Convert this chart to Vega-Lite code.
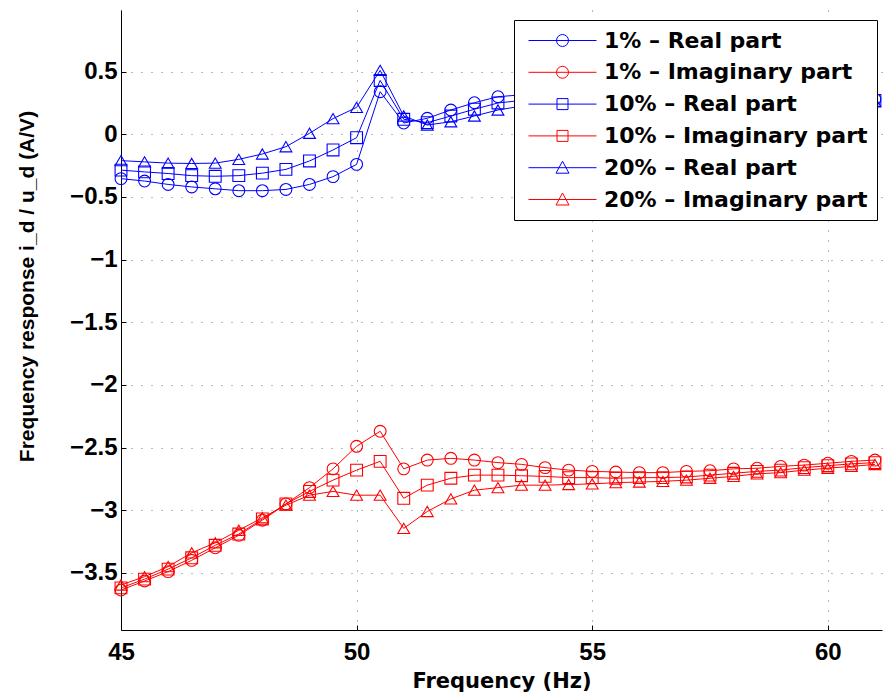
{
  "$schema": "https://vega.github.io/schema/vega-lite/v6.json",
  "autosize": {"type": "none"},
  "width": 761,
  "height": 620,
  "padding": {"left": 121, "top": 10, "right": 1, "bottom": 66},
  "background": "white",
  "config": {
    "view": {"stroke": null},
    "font": "Liberation Sans",
    "axis": {
      "domainColor": "#000",
      "domainWidth": 1,
      "tickColor": "#000",
      "tickSize": -5,
      "grid": true,
      "gridColor": "#000",
      "gridDash": [1, 9],
      "gridOpacity": 0.55,
      "labelFont": "Liberation Sans",
      "labelFontWeight": "bold",
      "labelFontSize": 24,
      "labelColor": "#000",
      "labelFlush": false,
      "titleFont": "Liberation Sans",
      "titleFontWeight": "bold",
      "titleFontSize": 21,
      "titleColor": "#000"
    }
  },
  "data": {"values": [
    {"f":45,"s":"1% – Real part","v":-0.354},{"f":45.5,"s":"1% – Real part","v":-0.373},{"f":46,"s":"1% – Real part","v":-0.40},{"f":46.5,"s":"1% – Real part","v":-0.42},{"f":47,"s":"1% – Real part","v":-0.435},{"f":47.5,"s":"1% – Real part","v":-0.45},{"f":48,"s":"1% – Real part","v":-0.45},{"f":48.5,"s":"1% – Real part","v":-0.44},{"f":49,"s":"1% – Real part","v":-0.40},{"f":49.5,"s":"1% – Real part","v":-0.338},{"f":50,"s":"1% – Real part","v":-0.24},{"f":50.5,"s":"1% – Real part","v":0.34},{"f":51,"s":"1% – Real part","v":0.09},{"f":51.5,"s":"1% – Real part","v":0.128},{"f":52,"s":"1% – Real part","v":0.194},{"f":52.5,"s":"1% – Real part","v":0.252},{"f":53,"s":"1% – Real part","v":0.30},{"f":53.5,"s":"1% – Real part","v":0.315},{"f":54,"s":"1% – Real part","v":0.325},{"f":54.5,"s":"1% – Real part","v":0.33},{"f":55,"s":"1% – Real part","v":0.332},{"f":55.5,"s":"1% – Real part","v":0.332},{"f":56,"s":"1% – Real part","v":0.33},{"f":56.5,"s":"1% – Real part","v":0.327},{"f":57,"s":"1% – Real part","v":0.323},{"f":57.5,"s":"1% – Real part","v":0.318},{"f":58,"s":"1% – Real part","v":0.313},{"f":58.5,"s":"1% – Real part","v":0.307},{"f":59,"s":"1% – Real part","v":0.302},{"f":59.5,"s":"1% – Real part","v":0.297},{"f":60,"s":"1% – Real part","v":0.292},{"f":60.5,"s":"1% – Real part","v":0.286},{"f":61,"s":"1% – Real part","v":0.28},

    {"f":45,"s":"1% – Imaginary part","v":-3.637},{"f":45.5,"s":"1% – Imaginary part","v":-3.565},{"f":46,"s":"1% – Imaginary part","v":-3.49},{"f":46.5,"s":"1% – Imaginary part","v":-3.40},{"f":47,"s":"1% – Imaginary part","v":-3.30},{"f":47.5,"s":"1% – Imaginary part","v":-3.20},{"f":48,"s":"1% – Imaginary part","v":-3.08},{"f":48.5,"s":"1% – Imaginary part","v":-2.95},{"f":49,"s":"1% – Imaginary part","v":-2.82},{"f":49.5,"s":"1% – Imaginary part","v":-2.67},{"f":50,"s":"1% – Imaginary part","v":-2.49},{"f":50.5,"s":"1% – Imaginary part","v":-2.37},{"f":51,"s":"1% – Imaginary part","v":-2.67},{"f":51.5,"s":"1% – Imaginary part","v":-2.60},{"f":52,"s":"1% – Imaginary part","v":-2.586},{"f":52.5,"s":"1% – Imaginary part","v":-2.60},{"f":53,"s":"1% – Imaginary part","v":-2.62},{"f":53.5,"s":"1% – Imaginary part","v":-2.634},{"f":54,"s":"1% – Imaginary part","v":-2.66},{"f":54.5,"s":"1% – Imaginary part","v":-2.68},{"f":55,"s":"1% – Imaginary part","v":-2.69},{"f":55.5,"s":"1% – Imaginary part","v":-2.695},{"f":56,"s":"1% – Imaginary part","v":-2.70},{"f":56.5,"s":"1% – Imaginary part","v":-2.70},{"f":57,"s":"1% – Imaginary part","v":-2.69},{"f":57.5,"s":"1% – Imaginary part","v":-2.685},{"f":58,"s":"1% – Imaginary part","v":-2.67},{"f":58.5,"s":"1% – Imaginary part","v":-2.665},{"f":59,"s":"1% – Imaginary part","v":-2.65},{"f":59.5,"s":"1% – Imaginary part","v":-2.64},{"f":60,"s":"1% – Imaginary part","v":-2.625},{"f":60.5,"s":"1% – Imaginary part","v":-2.61},{"f":61,"s":"1% – Imaginary part","v":-2.60},

    {"f":45,"s":"10% – Real part","v":-0.286},{"f":45.5,"s":"10% – Real part","v":-0.30},{"f":46,"s":"10% – Real part","v":-0.313},{"f":46.5,"s":"10% – Real part","v":-0.33},{"f":47,"s":"10% – Real part","v":-0.335},{"f":47.5,"s":"10% – Real part","v":-0.33},{"f":48,"s":"10% – Real part","v":-0.31},{"f":48.5,"s":"10% – Real part","v":-0.28},{"f":49,"s":"10% – Real part","v":-0.213},{"f":49.5,"s":"10% – Real part","v":-0.125},{"f":50,"s":"10% – Real part","v":-0.027},{"f":50.5,"s":"10% – Real part","v":0.43},{"f":51,"s":"10% – Real part","v":0.12},{"f":51.5,"s":"10% – Real part","v":0.093},{"f":52,"s":"10% – Real part","v":0.146},{"f":52.5,"s":"10% – Real part","v":0.20},{"f":53,"s":"10% – Real part","v":0.25},{"f":53.5,"s":"10% – Real part","v":0.27},{"f":54,"s":"10% – Real part","v":0.285},{"f":54.5,"s":"10% – Real part","v":0.295},{"f":55,"s":"10% – Real part","v":0.30},{"f":55.5,"s":"10% – Real part","v":0.303},{"f":56,"s":"10% – Real part","v":0.304},{"f":56.5,"s":"10% – Real part","v":0.303},{"f":57,"s":"10% – Real part","v":0.30},{"f":57.5,"s":"10% – Real part","v":0.297},{"f":58,"s":"10% – Real part","v":0.293},{"f":58.5,"s":"10% – Real part","v":0.289},{"f":59,"s":"10% – Real part","v":0.285},{"f":59.5,"s":"10% – Real part","v":0.28},{"f":60,"s":"10% – Real part","v":0.276},{"f":60.5,"s":"10% – Real part","v":0.272},{"f":61,"s":"10% – Real part","v":0.27},

    {"f":45,"s":"10% – Imaginary part","v":-3.62},{"f":45.5,"s":"10% – Imaginary part","v":-3.55},{"f":46,"s":"10% – Imaginary part","v":-3.47},{"f":46.5,"s":"10% – Imaginary part","v":-3.38},{"f":47,"s":"10% – Imaginary part","v":-3.28},{"f":47.5,"s":"10% – Imaginary part","v":-3.19},{"f":48,"s":"10% – Imaginary part","v":-3.07},{"f":48.5,"s":"10% – Imaginary part","v":-2.95},{"f":49,"s":"10% – Imaginary part","v":-2.85},{"f":49.5,"s":"10% – Imaginary part","v":-2.76},{"f":50,"s":"10% – Imaginary part","v":-2.68},{"f":50.5,"s":"10% – Imaginary part","v":-2.61},{"f":51,"s":"10% – Imaginary part","v":-2.905},{"f":51.5,"s":"10% – Imaginary part","v":-2.80},{"f":52,"s":"10% – Imaginary part","v":-2.745},{"f":52.5,"s":"10% – Imaginary part","v":-2.72},{"f":53,"s":"10% – Imaginary part","v":-2.72},{"f":53.5,"s":"10% – Imaginary part","v":-2.725},{"f":54,"s":"10% – Imaginary part","v":-2.73},{"f":54.5,"s":"10% – Imaginary part","v":-2.74},{"f":55,"s":"10% – Imaginary part","v":-2.74},{"f":55.5,"s":"10% – Imaginary part","v":-2.745},{"f":56,"s":"10% – Imaginary part","v":-2.74},{"f":56.5,"s":"10% – Imaginary part","v":-2.74},{"f":57,"s":"10% – Imaginary part","v":-2.735},{"f":57.5,"s":"10% – Imaginary part","v":-2.72},{"f":58,"s":"10% – Imaginary part","v":-2.705},{"f":58.5,"s":"10% – Imaginary part","v":-2.69},{"f":59,"s":"10% – Imaginary part","v":-2.68},{"f":59.5,"s":"10% – Imaginary part","v":-2.66},{"f":60,"s":"10% – Imaginary part","v":-2.645},{"f":60.5,"s":"10% – Imaginary part","v":-2.63},{"f":61,"s":"10% – Imaginary part","v":-2.62},

    {"f":45,"s":"20% – Real part","v":-0.21},{"f":45.5,"s":"20% – Real part","v":-0.22},{"f":46,"s":"20% – Real part","v":-0.23},{"f":46.5,"s":"20% – Real part","v":-0.233},{"f":47,"s":"20% – Real part","v":-0.23},{"f":47.5,"s":"20% – Real part","v":-0.20},{"f":48,"s":"20% – Real part","v":-0.157},{"f":48.5,"s":"20% – Real part","v":-0.099},{"f":49,"s":"20% – Real part","v":0.008},{"f":49.5,"s":"20% – Real part","v":0.125},{"f":50,"s":"20% – Real part","v":0.215},{"f":50.5,"s":"20% – Real part","v":0.51},{"f":51,"s":"20% – Real part","v":0.146},{"f":51.5,"s":"20% – Real part","v":0.074},{"f":52,"s":"20% – Real part","v":0.10},{"f":52.5,"s":"20% – Real part","v":0.146},{"f":53,"s":"20% – Real part","v":0.194},{"f":53.5,"s":"20% – Real part","v":0.225},{"f":54,"s":"20% – Real part","v":0.245},{"f":54.5,"s":"20% – Real part","v":0.26},{"f":55,"s":"20% – Real part","v":0.27},{"f":55.5,"s":"20% – Real part","v":0.276},{"f":56,"s":"20% – Real part","v":0.28},{"f":56.5,"s":"20% – Real part","v":0.282},{"f":57,"s":"20% – Real part","v":0.282},{"f":57.5,"s":"20% – Real part","v":0.281},{"f":58,"s":"20% – Real part","v":0.279},{"f":58.5,"s":"20% – Real part","v":0.276},{"f":59,"s":"20% – Real part","v":0.273},{"f":59.5,"s":"20% – Real part","v":0.27},{"f":60,"s":"20% – Real part","v":0.267},{"f":60.5,"s":"20% – Real part","v":0.263},{"f":61,"s":"20% – Real part","v":0.26},

    {"f":45,"s":"20% – Imaginary part","v":-3.597},{"f":45.5,"s":"20% – Imaginary part","v":-3.53},{"f":46,"s":"20% – Imaginary part","v":-3.45},{"f":46.5,"s":"20% – Imaginary part","v":-3.34},{"f":47,"s":"20% – Imaginary part","v":-3.26},{"f":47.5,"s":"20% – Imaginary part","v":-3.16},{"f":48,"s":"20% – Imaginary part","v":-3.06},{"f":48.5,"s":"20% – Imaginary part","v":-2.96},{"f":49,"s":"20% – Imaginary part","v":-2.88},{"f":49.5,"s":"20% – Imaginary part","v":-2.85},{"f":50,"s":"20% – Imaginary part","v":-2.88},{"f":50.5,"s":"20% – Imaginary part","v":-2.88},{"f":51,"s":"20% – Imaginary part","v":-3.145},{"f":51.5,"s":"20% – Imaginary part","v":-3.01},{"f":52,"s":"20% – Imaginary part","v":-2.91},{"f":52.5,"s":"20% – Imaginary part","v":-2.84},{"f":53,"s":"20% – Imaginary part","v":-2.82},{"f":53.5,"s":"20% – Imaginary part","v":-2.80},{"f":54,"s":"20% – Imaginary part","v":-2.80},{"f":54.5,"s":"20% – Imaginary part","v":-2.795},{"f":55,"s":"20% – Imaginary part","v":-2.79},{"f":55.5,"s":"20% – Imaginary part","v":-2.78},{"f":56,"s":"20% – Imaginary part","v":-2.775},{"f":56.5,"s":"20% – Imaginary part","v":-2.77},{"f":57,"s":"20% – Imaginary part","v":-2.76},{"f":57.5,"s":"20% – Imaginary part","v":-2.745},{"f":58,"s":"20% – Imaginary part","v":-2.73},{"f":58.5,"s":"20% – Imaginary part","v":-2.71},{"f":59,"s":"20% – Imaginary part","v":-2.70},{"f":59.5,"s":"20% – Imaginary part","v":-2.68},{"f":60,"s":"20% – Imaginary part","v":-2.665},{"f":60.5,"s":"20% – Imaginary part","v":-2.65},{"f":61,"s":"20% – Imaginary part","v":-2.635}
  ]},
  "encoding": {
    "x": {
      "field": "f", "type": "quantitative",
      "scale": {"domain": [45, 61.15], "nice": false, "zero": false},
      "axis": {"values": [45, 50, 55, 60], "title": "Frequency (Hz)", "labelPadding": 15,
               "titleFont": "DejaVu Sans", "titleFontSize": 21, "titleY": 57, "titleBaseline": "alphabetic"}
    },
    "y": {
      "field": "v", "type": "quantitative",
      "scale": {"domain": [-3.956, 0.992], "nice": false, "zero": false},
      "axis": {"values": [-3.5, -3, -2.5, -2, -1.5, -1, -0.5, 0, 0.5], "format": "~g", "labelPadding": 9,
               "title": "Frequency response i_d / u_d (A/V)", "titleX": -88, "titleY": 276, "titleBaseline": "alphabetic"}
    },
    "color": {
      "field": "s", "type": "nominal",
      "scale": {
        "domain": ["1% – Real part", "1% – Imaginary part", "10% – Real part", "10% – Imaginary part", "20% – Real part", "20% – Imaginary part"],
        "range": ["#0000ff", "#ff0000", "#0000ff", "#ff0000", "#0000ff", "#ff0000"]
      },
      "legend": null
    }
  },
  "layer": [
    {
      "mark": {"type": "line", "strokeWidth": 1},
      "encoding": {"detail": {"field": "s"}}
    },
    {
      "mark": {"type": "point", "filled": false, "strokeWidth": 1.1, "size": 140, "opacity": 1},
      "encoding": {
        "shape": {
          "field": "s", "type": "nominal",
          "scale": {
            "domain": ["1% – Real part", "1% – Imaginary part", "10% – Real part", "10% – Imaginary part", "20% – Real part", "20% – Imaginary part"],
            "range": ["circle", "circle", "square", "square", "triangle-up", "triangle-up"]
          },
          "legend": null
        }
      }
    },
    {
      "mark": {"type": "point", "filled": false, "strokeWidth": 1, "opacity": 0},
      "encoding": {
        "color": {
          "field": "s", "type": "nominal",
          "scale": {
            "domain": ["1% – Real part", "1% – Imaginary part", "10% – Real part", "10% – Imaginary part", "20% – Real part", "20% – Imaginary part"],
            "range": ["#0000ff", "#ff0000", "#0000ff", "#ff0000", "#0000ff", "#ff0000"]
          },
          "legend": {
            "title": null, "orient": "none", "legendX": 393, "legendY": 10, "padding": 9,
            "strokeColor": "#000", "fillColor": "#fff", "symbolSize": 484, "symbolStrokeWidth": 1,
            "symbolFillColor": "transparent", "labelFont": "DejaVu Sans", "labelFontWeight": "bold",
            "labelFontSize": 22, "labelColor": "#000", "labelLimit": 400, "labelOffset": 30,
            "rowPadding": 8.8, "symbolOffset": 28
          }
        },
        "shape": {
          "field": "s", "type": "nominal",
          "scale": {
            "domain": ["1% – Real part", "1% – Imaginary part", "10% – Real part", "10% – Imaginary part", "20% – Real part", "20% – Imaginary part"],
            "range": [
              "M-3.09,0H3.09M0.545,0A0.545,0.545,0,1,1,-0.545,0A0.545,0.545,0,1,1,0.545,0",
              "M-3.09,0H3.09M0.545,0A0.545,0.545,0,1,1,-0.545,0A0.545,0.545,0,1,1,0.545,0",
              "M-3.09,0H3.09M-0.5,-0.5H0.5V0.5H-0.5Z",
              "M-3.09,0H3.09M-0.5,-0.5H0.5V0.5H-0.5Z",
              "M-3.09,0H3.09M0,-0.59L0.59,0.5L-0.59,0.5Z",
              "M-3.09,0H3.09M0,-0.59L0.59,0.5L-0.59,0.5Z"
            ]
          },
          "legend": {
            "title": null, "orient": "none", "legendX": 393, "legendY": 10, "padding": 9,
            "strokeColor": "#000", "fillColor": "#fff", "symbolSize": 484, "symbolStrokeWidth": 1,
            "symbolFillColor": "transparent", "labelFont": "DejaVu Sans", "labelFontWeight": "bold",
            "labelFontSize": 22, "labelColor": "#000", "labelLimit": 400, "labelOffset": 30,
            "rowPadding": 8.8, "symbolOffset": 28
          }
        }
      }
    }
  ],
  "resolve": {"scale": {"shape": "independent", "color": "independent"}}
}
